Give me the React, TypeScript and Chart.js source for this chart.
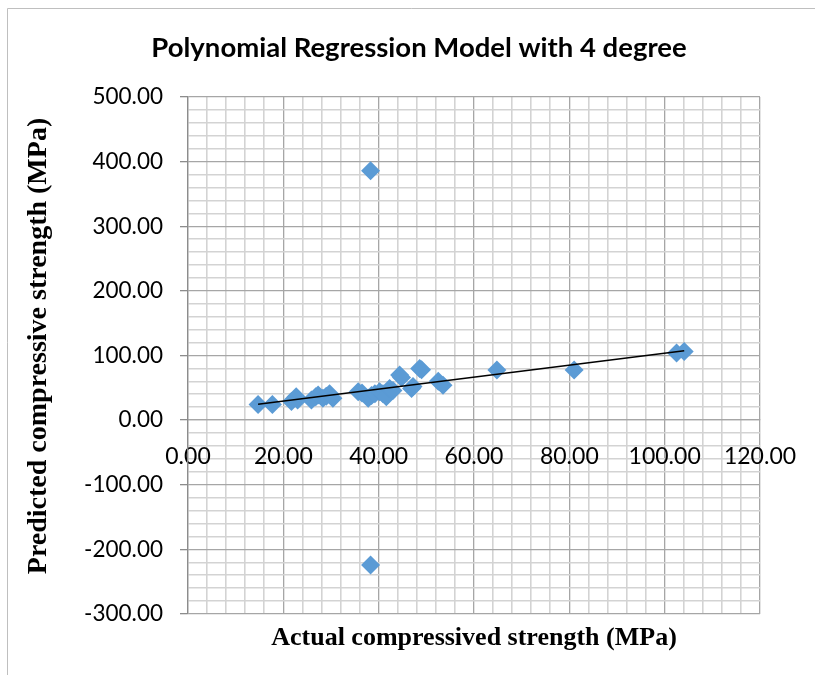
import React, { useEffect, useRef } from 'react';
import { Chart, registerables } from 'chart.js';

Chart.register(...registerables);

const chartTitle = 'Polynomial Regression Model with 4 degree';
const xAxisTitle = 'Actual compressived strength (MPa)';
const yAxisTitle = 'Predicted compressive strength (MPa)';

const actualStrength = [
  14.7, 17.7, 21.7, 22.7, 23.0, 25.9, 26.8, 27.3, 28.3, 29.0, 29.7, 30.4,
  35.7, 36.5, 37.8, 38.5, 39.2, 40.2, 40.9, 41.6, 42.3, 43.0, 44.4, 44.8,
  46.9, 47.2, 48.6, 49.0, 52.5, 53.5, 64.8, 81.0, 102.5, 104.1, 38.3, 38.3,
];
const predictedStrength = [
  24, 24, 29, 36, 31, 31, 36, 39, 34, 37, 41, 34,
  44, 42, 34, 38, 41, 44, 41, 36, 49, 46, 70, 66,
  49, 52, 80, 78, 60, 54, 77.6, 77.6, 104, 106, 386, -224,
];

const trendX = [14.7, 104.1];
const trendY = [24.6, 107.4];

const xMin = 0;
const xMax = 120;
const xMajorStep = 20;
const xMinorStep = 4;
const yMin = -300;
const yMax = 500;
const yMajorStep = 100;
const yMinorStep = 20;

const isMultiple = (v: number, step: number) => {
  const r = Math.abs(v / step - Math.round(v / step));
  return r < 1e-6;
};

export default function App() {
  const ref = useRef<HTMLCanvasElement>(null);

  useEffect(() => {
    document.body.style.margin = '0';
    const canvas = ref.current;
    if (!canvas) return;

    const points = actualStrength.map((x, i) => ({ x, y: predictedStrength[i] }));
    const trend = trendX.map((x, i) => ({ x, y: trendY[i] }));

    const decor = {
      id: 'decor',
      beforeDraw(chart: any) {
        const ctx = chart.ctx;
        ctx.save();
        ctx.fillStyle = '#ffffff';
        ctx.fillRect(0, 0, chart.width, chart.height);
        ctx.strokeStyle = '#bfbfbf';
        ctx.lineWidth = 1;
        ctx.beginPath();
        ctx.moveTo(7.5, 700);
        ctx.lineTo(7.5, 8.5);
        ctx.lineTo(830, 8.5);
        ctx.stroke();
        ctx.restore();
      },
      afterDraw(chart: any) {
        const { ctx, chartArea } = chart;
        ctx.save();
        ctx.fillStyle = '#000000';
        ctx.textAlign = 'center';
        ctx.textBaseline = 'alphabetic';
        ctx.font = 'bold 27.5px Lato';
        ctx.fillText(chartTitle, 419, 57);
        ctx.font = 'bold 26px "Liberation Serif"';
        ctx.fillText(xAxisTitle, (chartArea.left + chartArea.right) / 2, 645);
        ctx.translate(46, 346);
        ctx.rotate(-Math.PI / 2);
        ctx.font = 'bold 28px "Liberation Serif"';
        ctx.fillText(yAxisTitle, 0, 0);
        ctx.restore();
      },
    };

    const majorColor = '#a6a6a6';
    const minorColor = '#d3d3d3';

    const chart = new Chart(canvas, {
      type: 'scatter',
      data: {
        datasets: [
          {
            label: 'Trend',
            data: trend,
            showLine: true,
            borderColor: '#000000',
            borderWidth: 1.5,
            pointRadius: 0,
            fill: false,
          } as any,
          {
            label: 'Predicted',
            data: points,
            pointStyle: 'rectRot',
            pointRadius: 9.5,
            pointBackgroundColor: '#5b9bd5',
            pointBorderColor: '#5b9bd5',
            pointBorderWidth: 0,
            showLine: false,
          } as any,
        ],
      },
      options: {
        animation: false,
        responsive: false,
        maintainAspectRatio: false,
        layout: { padding: { left: 0, right: 55, top: 97, bottom: 61 } },
        plugins: {
          legend: { display: false },
          tooltip: { enabled: false },
          title: { display: false },
        },
        scales: {
          x: {
            type: 'linear',
            position: { y: 0 } as any,
            min: xMin,
            max: xMax,
            ticks: {
              stepSize: xMinorStep,
              autoSkip: false,
              maxRotation: 0,
              minRotation: 0,
              maxTicksLimit: 200,
              padding: 18,
              color: '#000000',
              font: { family: 'Lato', size: 23 },
              callback: (v: any) => (isMultiple(Number(v), xMajorStep) ? Number(v).toFixed(2) : ''),
            },
            grid: {
              color: (c: any) => (isMultiple(c.tick.value, xMajorStep) ? majorColor : minorColor),
              lineWidth: (c: any) => (isMultiple(c.tick.value, xMajorStep) ? 1.3 : 1.6),
              drawTicks: true,
              tickLength: 5,
              tickColor: 'rgba(0,0,0,0)',
            },
            border: { display: true, color: majorColor, width: 1.3 },
          },
          y: {
            type: 'linear',
            position: 'left',
            min: yMin,
            max: yMax,
            afterFit: (s: any) => {
              s.width = 188;
            },
            ticks: {
              stepSize: yMinorStep,
              autoSkip: false,
              maxTicksLimit: 200,
              padding: 17,
              color: '#000000',
              font: { family: 'Lato', size: 22.5 },
              callback: (v: any) => (isMultiple(Number(v), yMajorStep) ? Number(v).toFixed(2) : ''),
            },
            grid: {
              color: (c: any) => (isMultiple(c.tick.value, yMajorStep) ? majorColor : minorColor),
              lineWidth: (c: any) => (isMultiple(c.tick.value, yMajorStep) ? 1.3 : 1.6),
              drawTicks: true,
              tickLength: 8,
              tickColor: (c: any) => (isMultiple(c.tick.value, yMajorStep) ? '#8c8c8c' : 'rgba(0,0,0,0)'),
            },
            border: { display: true, color: '#8c8c8c', width: 1.3 },
          },
        },
      },
      plugins: [decor],
    });

    return () => chart.destroy();
  }, []);

  return (
    <div style={{ width: 815, height: 675, overflow: 'hidden', background: '#ffffff' }}>
      <canvas ref={ref} width={815} height={675} style={{ display: 'block', width: 815, height: 675 }} />
    </div>
  );
}
